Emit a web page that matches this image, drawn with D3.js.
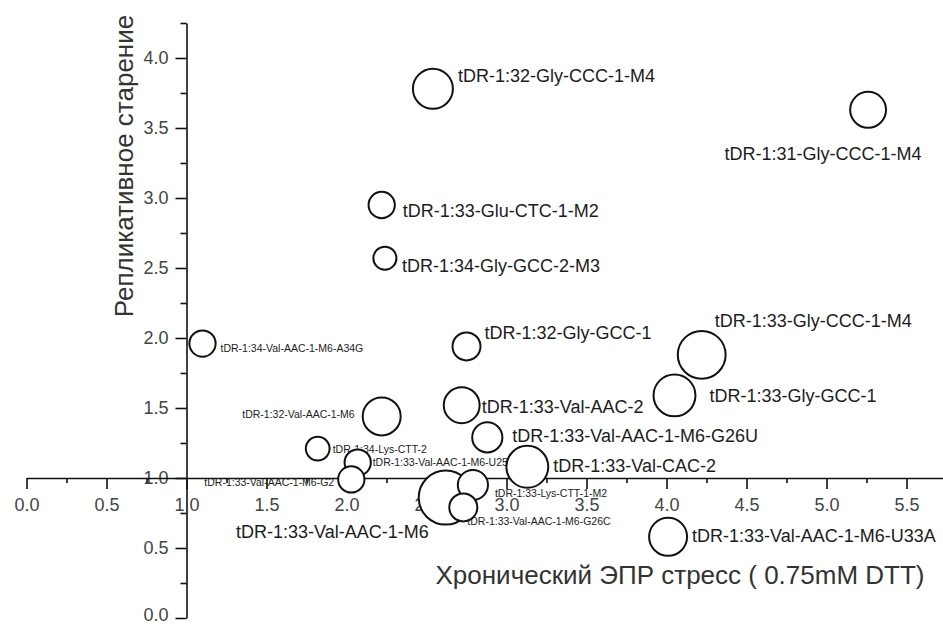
<!DOCTYPE html>
<html lang="ru">
<head>
<meta charset="UTF-8">
<title>tDR bubble chart</title>
<script src="https://d3js.org/d3.v7.min.js"></script>
<style>
  body { margin: 0; background: #fff; }
  svg { display: block; font-family: "Liberation Sans", Arial, sans-serif; }
  .axis path, .axis line { stroke: #111; stroke-width: 1.6px; }
  .axis text { font-size: 18px; fill: #444; font-family: "Liberation Sans", Arial, sans-serif; }
  .bubble { fill: #fff; stroke: #111; stroke-width: 2px; }
  .label { fill: #1c1c1c; }
  .title { fill: #333; font-size: 26px; }
</style>
</head>
<body>
<div id="chart"></div>
<script>
// values
const names = [
  "tDR-1:32-Gly-CCC-1-M4", "tDR-1:31-Gly-CCC-1-M4", "tDR-1:33-Glu-CTC-1-M2",
  "tDR-1:34-Gly-GCC-2-M3", "tDR-1:34-Val-AAC-1-M6-A34G", "tDR-1:32-Gly-GCC-1",
  "tDR-1:33-Gly-CCC-1-M4", "tDR-1:33-Gly-GCC-1", "tDR-1:33-Val-AAC-2",
  "tDR-1:32-Val-AAC-1-M6", "tDR-1:33-Val-AAC-1-M6-G26U", "tDR-1:34-Lys-CTT-2",
  "tDR-1:33-Val-AAC-1-M6-U25G", "tDR-1:33-Val-CAC-2", "tDR-1:33-Val-AAC-1-M6-G2",
  "tDR-1:33-Val-AAC-1-M6", "tDR-1:33-Lys-CTT-1-M2", "tDR-1:33-Val-AAC-1-M6-G26C",
  "tDR-1:33-Val-AAC-1-M6-U33A"
];
const stressValues = [2.54, 5.26, 2.22, 2.24, 1.10, 2.75, 4.22, 4.05, 2.72, 2.22, 2.88, 1.82, 2.07, 3.13, 2.03, 2.62, 2.79, 2.73, 4.01];
const senescenceValues = [3.78, 3.63, 2.95, 2.57, 1.96, 1.94, 1.88, 1.59, 1.52, 1.44, 1.29, 1.21, 1.11, 1.08, 0.99, 0.86, 0.95, 0.79, 0.58];
const bubbleSizes = [51, 41, 22, 17, 22, 25, 73, 56, 41, 46, 29, 18, 22, 56, 22, 93, 29, 25, 46];

const xTickValues = [0, 0.5, 1, 1.5, 2, 2.5, 3, 3.5, 4, 4.5, 5, 5.5];
const yTickValues = [0, 0.5, 1, 1.5, 2, 2.5, 3, 3.5, 4];

const xTitle = "Хронический ЭПР стресс ( 0.75mM DTT)";
const yTitle = "Репликативное старение";

// label placement relative to bubble centre (layout only)
const labelLayout = [
  { dx: 25, dy: -7, anchor: "start", small: false },
  { dx: -45, dy: 50, anchor: "middle", small: false },
  { dx: 21, dy: 12, anchor: "start", small: false },
  { dx: 17, dy: 14, anchor: "start", small: false },
  { dx: 18, dy: 8, anchor: "start", small: true },
  { dx: 18, dy: -7, anchor: "start", small: false },
  { dx: 13, dy: -28, anchor: "start", small: false },
  { dx: 35, dy: 7, anchor: "start", small: false },
  { dx: 20, dy: 8, anchor: "start", small: false },
  { dx: -27, dy: 2, anchor: "end", small: true },
  { dx: 25, dy: 5, anchor: "start", small: false },
  { dx: 15, dy: 4, anchor: "start", small: true },
  { dx: 15, dy: 3, anchor: "start", small: true },
  { dx: 26, dy: 5, anchor: "start", small: false },
  { dx: -147, dy: 7, anchor: "start", small: true },
  { dx: -17, dy: 40, anchor: "end", small: false },
  { dx: 22, dy: 12, anchor: "start", small: true },
  { dx: 4, dy: 18, anchor: "start", small: true },
  { dx: 24, dy: 5, anchor: "start", small: false }
];

const width = 943, height = 625;

const svg = d3.select("#chart")
  .append("svg")
  .attr("width", width)
  .attr("height", height);

const x = d3.scaleLinear().domain([0, 5.75]).range([26.5, 946.5]);
const y = d3.scaleLinear().domain([0, 4.25]).range([618, 23]);
const r = d3.scaleSqrt().domain([0, 100]).range([0, 28]);

const fmt = d3.format(".1f");

// y axis sits at x = 1.0, x axis at y = 1.0
const yAxisG = svg.append("g")
  .attr("class", "axis")
  .attr("transform", `translate(${x(1)},0)`)
  .call(d3.axisLeft(y).tickValues(yTickValues).tickFormat(fmt)
    .tickSize(11).tickSizeOuter(0).tickPadding(7));

// bottom label sits right on the window edge, lift it a touch
yAxisG.selectAll(".tick text")
  .filter(d => d === 0)
  .attr("dy", "0.12em");

svg.append("g")
  .attr("class", "axis")
  .attr("transform", `translate(${x(1)},0)`)
  .call(d3.axisLeft(y).tickValues(d3.range(0.25, 4.3, 0.5)).tickFormat("")
    .tickSize(6).tickSizeOuter(0))
  .select(".domain").remove();

svg.append("g")
  .attr("class", "axis")
  .attr("transform", `translate(0,${y(1)})`)
  .call(d3.axisBottom(x).tickValues(xTickValues).tickFormat(fmt)
    .tickSize(11).tickSizeOuter(0).tickPadding(9));

svg.append("g")
  .attr("class", "axis")
  .attr("transform", `translate(0,${y(1)})`)
  .call(d3.axisBottom(x).tickValues(d3.range(0.25, 5.8, 0.5)).tickFormat("")
    .tickSize(5).tickSizeOuter(0))
  .select(".domain").remove();

// axis titles
svg.append("text")
  .attr("class", "title")
  .attr("x", 680)
  .attr("y", 584)
  .attr("text-anchor", "middle")
  .text(xTitle);

svg.append("text")
  .attr("class", "title")
  .attr("transform", "translate(133,166) rotate(-90)")
  .attr("text-anchor", "middle")
  .text(yTitle);

const points = names.map((name, i) => ({
  name,
  sx: stressValues[i],
  sy: senescenceValues[i],
  size: bubbleSizes[i],
  lay: labelLayout[i]
}));

// labels go under the bubbles, the bubbles cover whatever they overlap
svg.append("g")
  .selectAll("text")
  .data(points)
  .join("text")
  .attr("class", "label")
  .attr("x", d => x(d.sx) + d.lay.dx)
  .attr("y", d => y(d.sy) + d.lay.dy)
  .attr("text-anchor", d => d.lay.anchor)
  .attr("font-size", d => d.lay.small ? "10.5px" : "18px")
  .text(d => d.name);

svg.append("g")
  .selectAll("circle")
  .data(points.slice().sort((a, b) => b.size - a.size))
  .join("circle")
  .attr("class", "bubble")
  .attr("cx", d => x(d.sx))
  .attr("cy", d => y(d.sy))
  .attr("r", d => r(d.size));
</script>
</body>
</html>
